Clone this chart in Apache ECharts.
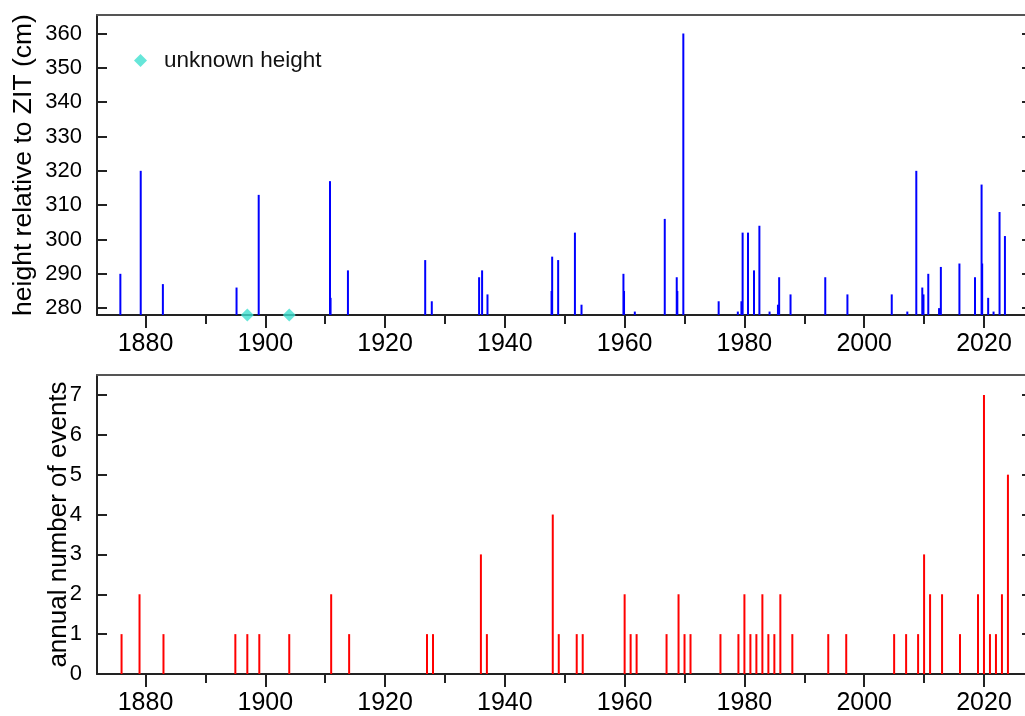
<!DOCTYPE html>
<html>
<head>
<meta charset="utf-8">
<script src="https://cdn.jsdelivr.net/npm/echarts@6/dist/echarts.min.js"></script>
<style>
html,body{margin:0;padding:0;background:#fff;}
#c{width:1025px;height:716px;}
</style>
</head>
<body>
<div id="c"></div>
<script>
// ---- data ----
const heightYears = [1875.8, 1879.2, 1882.9, 1895.2, 1898.9, 1910.8, 1910.9, 1913.8, 1926.7, 1927.8,
  1935.7, 1936.2, 1937.1, 1947.8, 1947.9, 1948.9, 1951.7, 1952.8, 1959.8, 1959.9,
  1961.7, 1966.7, 1968.7, 1968.8, 1969.8, 1975.7, 1978.9, 1979.5, 1979.7, 1980.6,
  1981.6, 1982.5, 1984.2, 1985.6, 1985.8, 1987.7, 1993.5, 1997.2, 2004.6, 2007.2,
  2008.7, 2009.7, 2009.9, 2010.7, 2012.5, 2012.8, 2015.9, 2018.5, 2019.6, 2019.7,
  2020.7, 2021.6, 2022.6, 2023.5];
const heights = [290, 320, 287, 286, 313, 317, 283, 291, 294, 282,
  289, 291, 284, 285, 295, 294, 302, 281, 290, 285,
  279, 306, 289, 285, 360, 282, 279, 282, 302, 302,
  291, 304, 279, 281, 289, 284, 289, 284, 284, 279,
  320, 286, 284, 290, 280, 292, 293, 289, 316, 293,
  283, 279, 308, 301];
const unknownYears = [1897, 1904];
const countYears = [1876, 1879, 1883, 1895, 1897, 1899, 1904, 1911, 1914, 1927,
  1928, 1936, 1937, 1948, 1949, 1952, 1953, 1960, 1961, 1962,
  1967, 1969, 1970, 1971, 1976, 1979, 1980, 1981, 1982, 1983,
  1984, 1985, 1986, 1988, 1994, 1997, 2005, 2007, 2009, 2010,
  2011, 2013, 2016, 2019, 2020, 2021, 2022, 2023, 2024];
const counts = [1, 2, 1, 1, 1, 1, 1, 2, 1, 1,
  1, 3, 1, 4, 1, 1, 1, 2, 1, 1,
  1, 2, 1, 1, 1, 1, 2, 1, 1, 2,
  1, 1, 2, 1, 1, 1, 1, 1, 1, 3,
  2, 2, 1, 2, 7, 1, 1, 2, 5];
const xMajorTicks = [1880, 1900, 1920, 1940, 1960, 1980, 2000, 2020];
const xMinorTicks = [1890, 1910, 1930, 1950, 1970, 1990, 2010];
const heightTicks = [280, 290, 300, 310, 320, 330, 340, 350, 360];
const countTicks = [0, 1, 2, 3, 4, 5, 6, 7];
const heightMin = 278, heightMax = 365.4;
const countMin = 0, countMax = 7.5;
const xMin = 1871.9, xMax = 2026.85;

// ---- chart ----
const chart = echarts.init(document.getElementById('c'), null, {renderer: 'canvas'});
const textFont = "'Liberation Sans', Arial, sans-serif";
const lineCol = '#222';

function xAxesFor(grid) {
  return [
    {gridIndex: grid, type: 'value', position: 'bottom', min: xMin, max: xMax,
      axisLine: {show: true, onZero: false, lineStyle: {color: lineCol, width: 2}},
      axisTick: {show: true, inside: false, length: 13, customValues: xMajorTicks, lineStyle: {color: lineCol, width: 2}},
      axisLabel: {show: true, customValues: xMajorTicks, margin: 17, fontSize: 25, color: '#000', fontFamily: textFont,
        formatter: v => String(Math.round(v))},
      splitLine: {show: false}},
    {gridIndex: grid, type: 'value', position: 'bottom', min: xMin, max: xMax,
      axisLine: {show: false},
      axisTick: {show: true, inside: false, length: 9, customValues: xMinorTicks, lineStyle: {color: lineCol, width: 2}},
      axisLabel: {show: false}, splitLine: {show: false}},
    {gridIndex: grid, type: 'value', position: 'top', min: xMin, max: xMax,
      axisLine: {show: true, onZero: false, lineStyle: {color: '#555', width: 2}},
      axisTick: {show: false}, axisLabel: {show: false}, splitLine: {show: false}}
  ];
}
function yAxesFor(grid, mn, mx, ticks, name, gap, nameSize) {
  return [
    {gridIndex: grid, type: 'value', position: 'left', min: mn, max: mx,
      name: name, nameLocation: 'middle', nameRotate: 90, nameGap: gap, nameMoveOverlap: false,
      nameTextStyle: {fontSize: nameSize, color: '#000', fontFamily: textFont},
      axisLine: {show: true, onZero: false, lineStyle: {color: lineCol, width: 2}},
      axisTick: {show: true, inside: true, length: 10, customValues: ticks, lineStyle: {color: lineCol, width: 2}},
      axisLabel: {show: true, customValues: ticks, margin: 15, fontSize: 22, color: '#000', fontFamily: textFont,
        formatter: v => String(Math.round(v))},
      splitLine: {show: false}},
    {gridIndex: grid, type: 'value', position: 'right', min: mn, max: mx,
      axisLine: {show: false},
      axisTick: {show: true, inside: true, length: 3, customValues: ticks, lineStyle: {color: lineCol, width: 2}},
      axisLabel: {show: false}, splitLine: {show: false}}
  ];
}

function stemSeries(xi, yi, xs, vs, base, color) {
  return {
    type: 'custom', xAxisIndex: xi, yAxisIndex: yi, clip: true, silent: true,
    encode: {x: 0, y: 1},
    data: xs.map((x, i) => [x, vs[i]]),
    renderItem: function (params, api) {
      const top = api.coord([api.value(0), api.value(1)]);
      const bot = api.coord([api.value(0), base]);
      return {type: 'line', shape: {x1: bot[0], y1: bot[1], x2: top[0], y2: top[1]},
        style: {stroke: color, lineWidth: 2}};
    }
  };
}

const option = {
  animation: false,
  backgroundColor: '#fff',
  grid: [
    {left: 97, top: 15, right: 0, height: 300},
    {left: 97, top: 375, right: 0, height: 299}
  ],
  xAxis: [...xAxesFor(0), ...xAxesFor(1)],
  yAxis: [
    ...yAxesFor(0, heightMin, heightMax, heightTicks, 'height relative to ZIT (cm)', 60, 26.5),
    ...yAxesFor(1, countMin, countMax, countTicks, 'annual number of events', 25, 26)
  ],
  legend: {
    data: ['unknown height'], left: 129, top: 44, icon: 'diamond',
    itemWidth: 13, itemHeight: 13,
    textStyle: {fontSize: 22.5, color: '#111', fontFamily: textFont, padding: [0, 0, 0, 12]}
  },
  series: [
    stemSeries(0, 0, heightYears, heights, heightMin, '#0000ff'),
    {type: 'scatter', name: 'unknown height', xAxisIndex: 0, yAxisIndex: 0, clip: false,
      symbol: 'diamond', symbolSize: 13, itemStyle: {color: '#40E0D0'}, z: 5,
      data: unknownYears.map(y => [y, heightMin])},
    stemSeries(3, 2, countYears, counts, countMin, '#ff0000')
  ]
};
chart.setOption(option);
</script>
</body>
</html>
